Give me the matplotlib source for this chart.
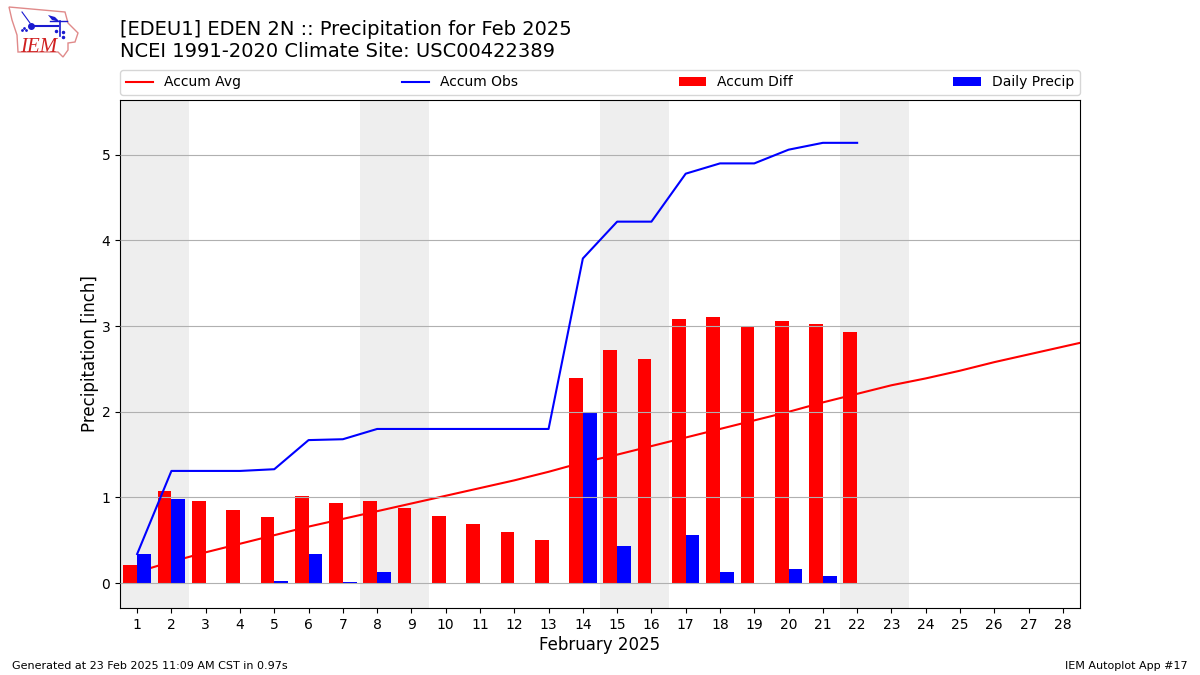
### [EDEU1] EDEN 2N daily and accumulated precipitation, Feb 2025 ###
import matplotlib
matplotlib.use("Agg")
import matplotlib.pyplot as plt
from matplotlib.patches import Polygon

DAYS = list(range(1, 29))
OBS_DAYS = list(range(1, 23))
AVG_DAYS = list(range(1, 30))  # the climatology line runs off the right edge

ACCUM_AVG = [0.13, 0.25, 0.36, 0.46, 0.56, 0.66, 0.75, 0.84, 0.93, 1.02,
             1.11, 1.20, 1.30, 1.41, 1.50, 1.60, 1.70, 1.80, 1.90, 2.00,
             2.11, 2.21, 2.31, 2.39, 2.48, 2.58, 2.67, 2.76, 2.85]
ACCUM_OBS = [0.34, 1.31, 1.31, 1.31, 1.33, 1.67, 1.68, 1.80, 1.80, 1.80,
             1.80, 1.80, 1.80, 3.79, 4.22, 4.22, 4.78, 4.90, 4.90, 5.06,
             5.14, 5.14]
ACCUM_DIFF = [0.21, 1.07, 0.96, 0.85, 0.77, 1.02, 0.94, 0.96, 0.88, 0.78,
              0.69, 0.60, 0.50, 2.39, 2.72, 2.62, 3.08, 3.11, 3.00, 3.06,
              3.03, 2.93]
DAILY = [0.34, 0.98, 0, 0, 0.02, 0.34, 0.01, 0.13, 0, 0,
         0, 0, 0, 2.00, 0.43, 0, 0.56, 0.13, 0, 0.16,
         0.08, 0]
WEEKEND_STARTS = [1, 8, 15, 22]

TITLE = "[EDEU1] EDEN 2N :: Precipitation for Feb 2025\nNCEI 1991-2020 Climate Site: USC00422389"
FOOT_L = "Generated at 23 Feb 2025 11:09 AM CST in 0.97s"
FOOT_R = "IEM Autoplot App #17"

# rough outline of Iowa for the logo, in pixels of the logo box
IOWA = [(9, 7), (65, 12), (68, 23), (78, 33), (75, 42), (68, 43), (68, 50),
        (63, 57), (58, 52), (18, 52), (17, 35), (12, 20)]
BIRD = [(48, 15), (55, 17), (60, 22), (52, 20)]

W, H = 1200, 675
fig = plt.figure(figsize=(12, 6.75), dpi=100)
ax = fig.add_axes([120 / W, 1 - 608 / H, 960 / W, 508 / H])

for d in WEEKEND_STARTS:
    ax.axvspan(d - 0.5, d + 1.5, color="#eeeeee", lw=0, zorder=0)
ax.grid(axis="y", color="#b0b0b0", lw=0.8)
ax.set_axisbelow(False)
for line in ax.get_ygridlines():
    line.set_zorder(0.5)

ax.plot(AVG_DAYS, ACCUM_AVG, color="r", lw=1.5, zorder=0.8, label="Accum Avg")
ax.plot(OBS_DAYS, ACCUM_OBS, color="b", lw=1.5, zorder=3, label="Accum Obs")
ax.bar([d - 0.2 for d in OBS_DAYS], ACCUM_DIFF, width=0.4, color="r", zorder=1, label="Accum Diff")
ax.bar([d + 0.2 for d in OBS_DAYS], DAILY, width=0.4, color="b", zorder=1, label="Daily Precip")

ax.set_xlim(0.5, 28.5)
ax.set_ylim(-0.29, 5.64)
ax.set_xticks(DAYS)
ax.set_yticks([0, 1, 2, 3, 4, 5])
ax.set_xlabel("February 2025", fontsize=12, labelpad=3)
ax.set_ylabel("Precipitation [inch]", fontsize=12, labelpad=2)
ax.legend(loc="lower left", bbox_to_anchor=(0, 1.01, 1, 0.06), ncol=4, mode="expand",
          borderaxespad=0, fontsize=10)

fig.text(120 / W, 1 - 61 / H, TITLE, fontsize=14, ha="left", va="bottom")
fig.text(12 / W, 1 - 671 / H, FOOT_L, fontsize=8, ha="left", va="bottom")
fig.text(1188 / W, 1 - 671 / H, FOOT_R, fontsize=8, ha="right", va="bottom")

# logo: drawn by hand in its own pixel-sized axes
logo = fig.add_axes([0, 1 - 60 / H, 80 / W, 60 / H])
logo.set_xlim(0, 80)
logo.set_ylim(60, 0)
logo.axis("off")
logo.add_patch(Polygon(IOWA, closed=True, fill=False, ec="#e08a8a", lw=1))
logo.add_patch(Polygon(BIRD, closed=True, color="#1a1ad0", lw=0))
logo.plot([31, 58], [26, 26], color="#1a1ad0", lw=1.5)
logo.plot([50, 67], [21, 21], color="#1a1ad0", lw=1)
logo.plot([60, 60], [21, 36], color="#1a1ad0", lw=1.2)
logo.plot([22, 30], [12, 23], color="#1a1ad0", lw=0.8)
logo.plot([31], [26], marker="o", ms=4, color="#1a1ad0")
logo.plot([24, 26, 22], [28, 30, 30], ls="", marker="o", ms=1, color="#1a1ad0")
logo.plot([56, 63, 63], [31, 32, 37], ls="", marker="o", ms=1.5, color="#1a1ad0")
logo.text(20, 52, "IEM", family="Liberation Serif", style="italic", fontsize=15,
          color="#d02020", ha="left", va="baseline")

fig.savefig("out.png", dpi=100)
